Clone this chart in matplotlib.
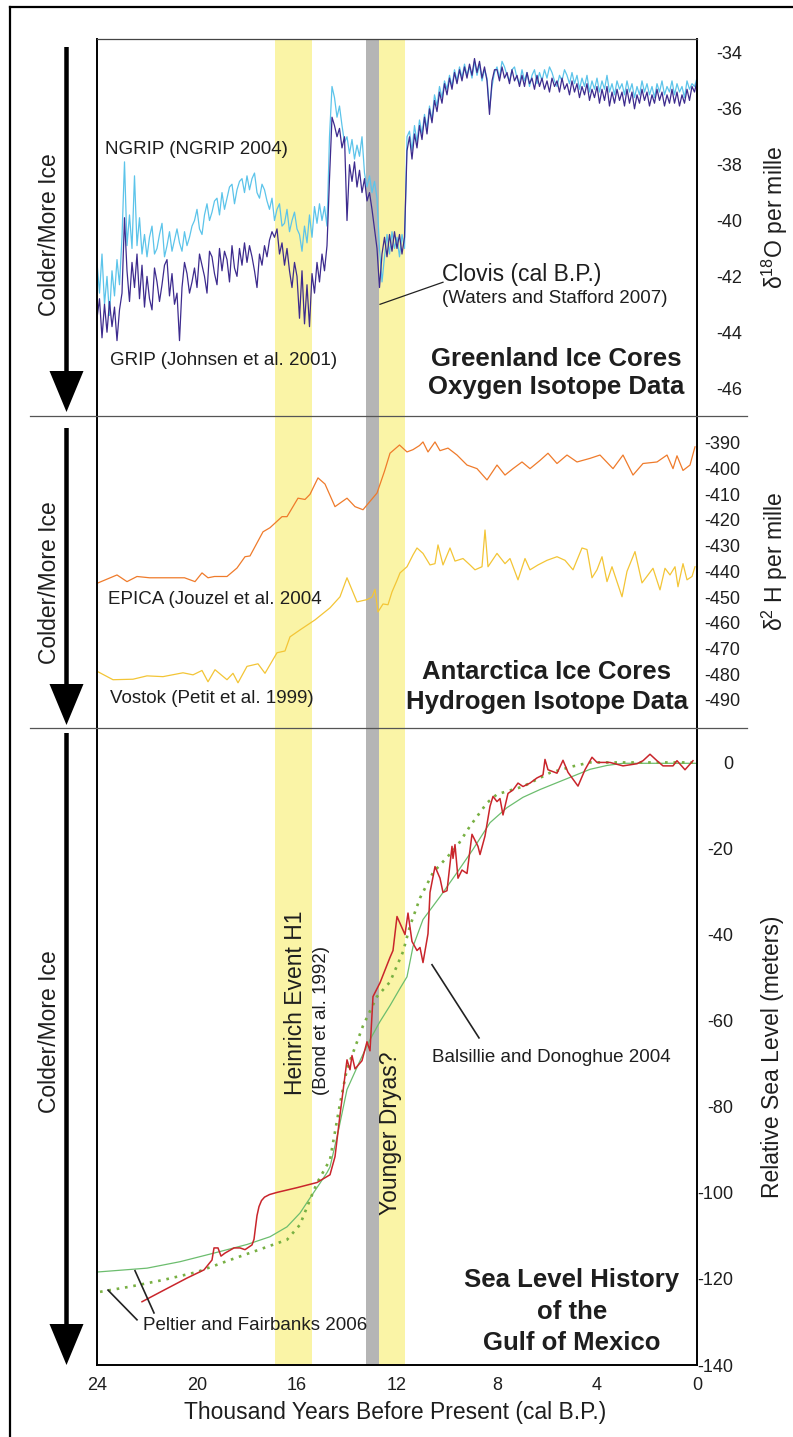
import numpy as np
import matplotlib
matplotlib.use("Agg")
import matplotlib.pyplot as plt
from matplotlib.lines import Line2D
from matplotlib.patches import FancyArrow

plt.rcParams.update({
    "font.family": ["Liberation Sans", "DejaVu Sans"],
    "mathtext.fontset": "custom",
    "mathtext.rm": "Liberation Sans",
    "mathtext.it": "Liberation Sans:italic",
    "mathtext.bf": "Liberation Sans:bold",
    "axes.unicode_minus": False,
})

# ---------------------------------------------------------------------------
# data; ages in thousand years BP
# ---------------------------------------------------------------------------
# Greenland d18O, one value per 0.1 kyr from 24.0 down to 0.0
ngrip = [
    -41.5, -42.6, -41.2, -43.0, -42.0, -43.4, -41.8, -42.7, -41.4, -42.3,
    -40.6, -37.9, -40.9, -39.8, -41.0, -38.4, -40.9, -39.9, -41.2, -40.5,
    -41.3, -40.6, -40.2, -41.2, -41.0, -40.5, -40.1, -41.3, -40.9, -40.4,
    -41.1, -40.7, -40.3, -40.8, -41.1, -40.4, -40.9, -40.6, -40.2, -40.0,
    -39.6, -40.3, -40.5, -39.8, -39.4, -40.0, -39.7, -39.3, -39.2, -39.8,
    -39.0, -39.6, -39.2, -38.8, -38.7, -39.4, -38.9, -38.6, -38.5, -39.0,
    -38.4, -38.9, -38.5, -38.3, -39.0, -39.2, -38.7, -38.9, -39.3, -39.6,
    -39.2, -40.0, -39.6, -39.4, -40.2, -40.1, -39.6, -40.4, -40.0, -39.7,
    -40.3, -40.5, -41.1, -40.2, -40.8, -39.8, -40.6, -39.5, -40.1, -39.4,
    -40.0, -39.5, -40.2, -37.0, -35.2, -35.6, -36.3, -35.9, -36.6, -37.2,
    -37.0, -37.6, -37.1, -37.8, -37.3, -37.7, -37.0, -38.3, -38.8, -38.4,
    -39.0, -38.6, -39.2, -41.0, -42.2, -41.3, -40.5, -41.2, -40.4, -41.0,
    -40.6, -41.3, -40.5, -41.0, -37.0, -36.8, -37.5, -36.6, -37.2, -36.4,
    -36.9, -36.2, -36.7, -35.9, -36.4, -35.5, -35.9, -35.2, -35.6, -35.0,
    -35.3, -34.8, -35.2, -34.6, -35.0, -34.5, -34.9, -34.4, -34.8, -34.5,
    -34.9, -34.3, -34.8, -34.4, -35.0, -34.6, -34.9, -36.0, -35.2, -34.7,
    -34.5, -34.9, -34.3, -34.5, -34.8, -35.0, -34.6, -34.5, -34.9, -35.1,
    -34.6, -35.0, -34.7, -35.2, -34.8, -34.6, -35.1, -34.7, -35.0, -34.6,
    -34.9, -34.5, -34.7, -35.0, -35.2, -34.8, -35.0, -34.6, -34.8, -35.1,
    -34.7, -35.1, -34.8, -35.3, -34.9, -35.2, -34.8, -35.4, -35.0, -35.3,
    -34.9, -35.4, -35.0, -35.3, -34.8, -35.4, -35.1, -35.5, -35.0, -35.3,
    -35.1, -35.5, -35.0, -35.4, -35.1, -35.6, -35.2, -35.5, -35.0, -35.4,
    -35.1, -35.5, -35.2, -35.6, -35.1, -35.4, -35.0, -35.5, -35.2, -35.4,
    -35.0, -35.5, -35.1, -35.4, -35.2, -35.6, -35.0, -35.3, -35.1, -35.2, -34.9,
]
grip = [
    -43.5, -42.8, -44.2, -43.0, -44.0, -42.9, -43.8, -43.1, -44.3, -43.2,
    -42.6, -39.9, -41.8, -42.9, -41.5, -42.4, -41.2, -42.8, -41.6, -43.1,
    -42.0, -42.8, -43.2, -41.7, -42.2, -42.9, -42.3, -41.6, -41.4, -42.7,
    -41.9, -43.0, -42.6, -44.3, -42.4, -41.5, -41.9, -42.6, -42.2, -41.7,
    -42.4, -41.2, -41.6, -42.0, -42.6, -41.1, -41.3, -41.9, -42.3, -41.0,
    -41.8, -41.1, -41.4, -42.2, -40.9, -41.7, -42.0, -41.0, -41.6, -40.8,
    -41.5, -40.9, -41.3, -41.8, -42.4, -41.2, -41.6, -40.9, -41.3, -40.7,
    -40.4, -40.6, -40.3, -41.2, -40.8, -41.6, -41.0, -41.8, -42.4, -41.5,
    -42.0, -43.5, -41.8, -43.7, -42.3, -43.8, -41.9, -42.6, -41.5, -42.2,
    -41.2, -41.8, -40.9, -38.5, -36.3, -36.6, -37.0, -36.7, -37.4, -37.0,
    -40.0, -38.0, -38.6, -37.9, -38.8, -38.2, -39.0, -38.5, -39.3, -39.0,
    -39.6, -40.3, -41.0, -42.4, -41.2, -40.6, -41.3, -40.5, -41.1, -40.4,
    -41.0, -40.5, -41.2, -40.6, -37.5, -37.0, -37.8, -36.9, -37.4, -36.6,
    -37.1, -36.3, -36.9, -36.0, -36.5, -35.7, -36.1, -35.4, -35.8, -35.1,
    -35.5, -34.9, -35.3, -34.7, -35.1, -34.6, -35.0, -34.5, -34.9, -34.4,
    -34.8, -34.2, -34.7, -34.3, -34.9, -34.5, -35.0, -36.2, -35.0, -34.6,
    -34.6, -35.0, -34.5, -34.9, -34.7, -35.1, -34.6, -35.0, -34.8, -35.2,
    -34.8, -35.2, -34.7, -35.1, -34.9, -35.3, -34.8, -35.2, -34.9, -35.3,
    -35.0, -35.4, -34.9, -35.2, -35.0, -35.4, -34.9, -35.3, -35.1, -35.5,
    -35.0, -35.4, -35.1, -35.6, -35.2, -35.5, -35.1, -35.7, -35.3, -35.6,
    -35.2, -35.8, -35.3, -35.7, -35.2, -35.9, -35.4, -35.8, -35.3, -35.7,
    -35.4, -35.9, -35.3, -35.8, -35.4, -36.0, -35.5, -35.8, -35.3, -35.7,
    -35.4, -35.9, -35.5, -35.8, -35.3, -35.7, -35.4, -35.9, -35.5, -35.8,
    -35.3, -35.8, -35.4, -35.9, -35.5, -35.8, -35.3, -35.7, -35.2, -35.4, -35.0,
]
ngrip_age = np.linspace(24, 0, len(ngrip))
grip_age = np.linspace(24, 0, len(grip))

# Antarctic dD
epica_age = [23.96, 23.2, 22.8, 22.4, 21.9, 21.0, 20.5, 20.08, 19.8, 19.56, 19.3,
             18.8, 18.4, 18.08, 17.88, 17.36, 17.08, 16.6, 16.4, 15.96, 15.68, 15.48,
             15.16, 14.88, 14.48, 14.0, 13.68, 13.36, 12.8, 12.5, 12.28, 11.9, 11.6,
             11.36, 11.1, 10.96, 10.76, 10.48, 10.28, 9.96, 9.6, 9.2, 8.8, 8.4, 8.0,
             7.68, 7.36, 7.0, 6.68, 6.28, 5.96, 5.6, 5.2, 4.8, 4.28, 3.88, 3.36, 2.96,
             2.56, 2.16, 1.6, 1.2, 0.96, 0.8, 0.56, 0.28, 0.08]
epica_dd = [-444.5, -441.4, -444.0, -442.0, -442.5, -442.5, -442.5, -444.0, -440.6,
            -442.5, -442.0, -442.0, -438.7, -434.3, -434.0, -424.6, -423.0, -418.7,
            -418.7, -411.5, -412.0, -410.0, -403.6, -406.0, -414.8, -411.5, -414.8,
            -416.0, -409.5, -401.0, -394.0, -390.8, -393.5, -392.6, -391.0, -389.6,
            -393.5, -389.6, -393.0, -392.0, -394.7, -398.6, -400.0, -404.4, -398.6,
            -402.5, -400.0, -397.4, -400.0, -396.8, -394.0, -398.0, -394.7, -397.4,
            -396.0, -394.7, -400.0, -394.7, -402.5, -398.0, -397.4, -394.7, -400.0,
            -395.0, -400.7, -398.6, -391.5]
vostok_age = [23.96, 23.36, 22.56, 22.0, 21.36, 20.56, 20.16, 19.8, 19.56, 19.28, 18.8,
              18.56, 18.36, 18.0, 17.56, 17.28, 16.8, 16.48, 16.28, 15.88, 15.28, 14.68,
              14.28, 14.0, 13.6, 13.2, 13.0, 12.88, 12.76, 12.56, 12.36, 12.2, 12.0,
              11.88, 11.6, 11.36, 11.2, 10.96, 10.68, 10.48, 10.36, 10.16, 9.88, 9.68,
              9.36, 9.08, 8.88, 8.6, 8.48, 8.36, 8.0, 7.68, 7.48, 7.16, 6.88, 6.68, 6.36,
              6.0, 5.6, 5.28, 4.96, 4.6, 4.4, 4.2, 4.0, 3.8, 3.6, 3.4, 3.0, 2.8, 2.48,
              2.2, 1.96, 1.76, 1.48, 1.28, 1.08, 0.88, 0.76, 0.56, 0.4, 0.2, 0.08]
vostok_dd = [-479.1, -482.2, -482.0, -480.7, -481.0, -479.5, -480.3, -478.6, -483.0,
             -478.3, -482.2, -479.7, -483.4, -477.0, -476.0, -479.7, -471.7, -471.0,
             -465.5, -462.8, -458.9, -454.2, -449.9, -442.5, -451.9, -451.0, -450.0,
             -447.0, -455.8, -452.7, -453.0, -448.0, -443.5, -440.6, -438.2, -433.6,
             -430.9, -433.0, -437.5, -437.0, -429.7, -437.5, -430.9, -436.0, -435.0,
             -437.5, -439.4, -438.2, -423.9, -438.2, -433.0, -437.0, -435.0, -443.3,
             -435.0, -439.4, -437.5, -435.7, -434.3, -435.7, -439.4, -430.9, -431.5,
             -442.5, -439.4, -434.3, -444.0, -438.2, -449.9, -440.0, -432.3, -444.5,
             -441.4, -438.8, -447.2, -438.8, -441.4, -438.2, -446.0, -437.0, -443.3,
             -442.0, -438.2]

# Gulf of Mexico relative sea level (m)
bd_age = [22.2, 21.32, 20.4, 19.72, 19.4, 19.32, 19.16, 19.04, 18.88, 18.52, 18.28,
          18.08, 17.8, 17.72, 17.66, 17.6, 17.52, 17.42, 17.3, 17.1, 16.8, 16.0, 15.2,
          14.68, 14.48, 14.28, 14.0, 13.88, 13.8, 13.68, 13.4, 13.2, 13.08, 12.96,
          12.68, 12.28, 12.16, 12.0, 11.68, 11.56, 11.4, 11.2, 11.08, 10.96, 10.76,
          10.68, 10.48, 10.28, 10.16, 10.0, 9.8, 9.76, 9.68, 9.56, 9.4, 9.2, 9.0, 8.76,
          8.68, 8.48, 8.28, 8.16, 8.0, 7.88, 7.76, 7.56, 7.36, 7.16, 6.96, 6.68, 6.4,
          6.16, 6.08, 5.96, 5.6, 5.36, 5.16, 4.76, 4.48, 4.2, 4.0, 3.48, 2.96, 2.4,
          2.16, 1.88, 1.6, 1.36, 0.96, 0.8, 0.48, 0.16]
bd_rsl = [-125.3, -122.6, -119.8, -117.9, -115.6, -112.8, -112.8, -114.7, -114.0,
          -112.8, -112.8, -113.2, -112.1, -110.8, -108.0, -105.3, -103.2, -101.8,
          -101.0, -100.4, -99.9, -98.8, -97.6, -95.8, -91.6, -81.9, -69.1, -71.4, -68.1,
          -71.2, -69.3, -64.9, -67.0, -54.4, -51.2, -45.3, -43.7, -35.8, -40.0, -35.0,
          -41.6, -43.7, -43.0, -46.5, -39.8, -30.2, -24.2, -26.9, -30.2, -29.8, -19.5,
          -22.3, -19.1, -26.9, -25.0, -25.8, -16.7, -19.5, -21.4, -17.1, -10.2, -7.9,
          -9.1, -8.4, -12.2, -7.2, -6.4, -4.8, -5.6, -4.8, -3.6, -2.9, 0.7, -1.7, -2.5,
          0.5, -2.3, -5.5, -1.7, 1.2, 0.0, 0.0, -0.8, -0.3, 0.4, 1.9, 0.4, -0.8, -0.8,
          0.4, -1.7, 0.4]
pf_age = [24.0, 22.0, 20.68, 19.32, 18.0, 17.08, 16.4, 15.88, 15.48, 15.12, 14.8,
          14.68, 14.36, 14.0, 13.48, 13.08, 12.68, 12.28, 11.88, 11.6, 11.36, 10.96,
          10.28, 9.6, 8.96, 8.28, 7.6, 6.96, 6.28, 5.6, 4.96, 4.28, 3.6, 2.96, 1.6, 0.0]
pf_rsl = [-118.4, -117.5, -116.0, -114.0, -112.0, -110.2, -107.9, -104.7, -101.2,
          -98.1, -95.3, -94.0, -86.0, -76.0, -69.3, -64.4, -60.2, -56.5, -52.5, -49.8,
          -42.8, -36.5, -31.2, -25.6, -20.2, -14.0, -10.5, -8.1, -6.3, -4.7, -3.2,
          -1.6, -0.7, -0.2, -0.2, -0.2]
pf2_age = [23.88, 22.68, 21.32, 20.0, 18.68, 17.32, 16.4, 15.88, 15.48, 15.2, 14.68,
           14.28, 14.0, 13.36, 12.8, 12.28, 11.76, 11.48, 11.08, 10.56, 9.6, 9.08, 8.4,
           8.0, 6.96, 5.88, 4.96, 4.28, 0.0]
pf2_rsl = [-123.0, -121.8, -120.2, -118.4, -115.6, -112.8, -110.9, -107.4, -101.6,
           -97.7, -92.3, -79.3, -71.2, -61.2, -54.4, -51.0, -44.0, -38.0, -31.5, -25.6,
           -19.5, -14.8, -9.4, -7.4, -5.6, -2.4, -0.9, 0.0, 0.0]

# shaded intervals (kyr BP)
heinrich = (16.88, 15.4)
clovis = (13.24, 12.72)
younger_dryas = (12.72, 11.68)

# ---------------------------------------------------------------------------
W, H = 793, 1437
fig = plt.figure(figsize=(W / 100, H / 100), dpi=100)
fx = lambda px: px / W
fy = lambda py: 1 - py / H
TXT = "#1e1e1e"
YEL, GRY = "#faf4a6", "#b5b5b5"


def panel(top, bottom):
    ax = fig.add_axes([fx(97), fy(bottom), fx(697) - fx(97), fy(top) - fy(bottom)])
    ax.set_xlim(24, 0)
    for s in ax.spines.values():
        s.set_visible(False)
    for side in ("left", "right"):
        ax.spines[side].set_visible(True)
        ax.spines[side].set_linewidth(1.4)
    ax.axvspan(*heinrich, color=YEL, lw=0, zorder=0)
    ax.axvspan(*younger_dryas, color=YEL, lw=0, zorder=0)
    ax.axvspan(*clovis, color=GRY, lw=0, zorder=0)
    ax.yaxis.tick_right()
    ax.tick_params(axis="y", length=0, labelsize=13, labelcolor=TXT)
    ax.tick_params(axis="x", length=0, labelbottom=False)
    return ax


# --- Greenland --------------------------------------------------------------
ax1 = panel(39, 416)
ax1.spines["top"].set_visible(True)
ax1.spines["top"].set_color("#444")
ax1.spines["top"].set_linewidth(0.9)
ax1.plot(ngrip_age, ngrip, color="#5cc4ea", lw=0.9)
ax1.plot(grip_age, grip, color="#3d2b8e", lw=0.9)
ax1.set_ylim(-47, -33.5)
ax1.set_yticks(np.arange(-34, -47, -2))
ax1.tick_params(axis="y", pad=14)
ax1.text(23.68, -37.46, "NGRIP (NGRIP 2004)", fontsize=13.5, color=TXT, va="center")
ax1.text(23.48, -45.0, "GRIP (Johnsen et al. 2001)", fontsize=13.5, color=TXT, va="center")
ax1.plot([12.68, 10.16], [-43.0, -42.21], color="#222", lw=0.9)
ax1.text(10.2, -41.93, "Clovis (cal B.P.)", fontsize=16.5, color=TXT, va="center")
ax1.text(10.2, -42.79, "(Waters and Stafford 2007)", fontsize=13.5, color=TXT, va="center")
ax1.text(5.64, -44.96, "Greenland Ice Cores", fontsize=18.5, weight="bold",
         color=TXT, ha="center", va="center")
ax1.text(5.64, -45.96, "Oxygen Isotope Data", fontsize=18.5, weight="bold",
         color=TXT, ha="center", va="center")

# --- Antarctica -------------------------------------------------------------
ax2 = panel(416, 728)
ax2.plot(epica_age, epica_dd, color="#ef7b2b", lw=0.9)
ax2.plot(vostok_age, vostok_dd, color="#f3c536", lw=0.9)
ax2.set_ylim(-501, -379.5)
ax2.set_yticks(np.arange(-390, -491, -10))
ax2.tick_params(axis="y", pad=5)
ax2.text(23.56, -451.1, "EPICA (Jouzel et al. 2004", fontsize=13.5, color=TXT, va="center")
ax2.text(23.48, -489.6, "Vostok (Petit et al. 1999)", fontsize=13.5, color=TXT, va="center")
ax2.text(6.0, -479.1, "Antarctica Ice Cores", fontsize=18.5, weight="bold",
         color=TXT, ha="center", va="center")
ax2.text(6.0, -490.8, "Hydrogen Isotope Data", fontsize=18.5, weight="bold",
         color=TXT, ha="center", va="center")

# --- Gulf of Mexico sea level -----------------------------------------------
ax3 = panel(728, 1365)
ax3.spines["bottom"].set_visible(True)
ax3.spines["bottom"].set_linewidth(1.4)
ax3.plot(pf_age, pf_rsl, color="#6cbd6e", lw=0.9)
ax3.plot(pf2_age, pf2_rsl, color="#78b043", lw=1.9, linestyle=(0, (1, 2.2)))
ax3.plot(bd_age, bd_rsl, color="#c9252b", lw=1.1)
ax3.set_ylim(-140, 8)
ax3.set_yticks(np.arange(0, -141, -20))
ax3.tick_params(axis="y", pad=26)
for lab in ax3.get_yticklabels():
    lab.set_horizontalalignment("right")
ax3.set_xticks([24, 20, 16, 12, 8, 4, 0])
ax3.tick_params(axis="x", labelbottom=True, labelsize=13, labelcolor=TXT, pad=9)

ax3.text(16.04, -77.2, "Heinrich Event H1", fontsize=16.5, color=TXT, rotation=90,
         rotation_mode="anchor", ha="left", va="center")
ax3.text(15.04, -77.2, "(Bond et al. 1992)", fontsize=13.5, color=TXT, rotation=90,
         rotation_mode="anchor", ha="left", va="center")
ax3.text(12.24, -105.1, "Younger Dryas?", fontsize=16.5, color=TXT, rotation=90,
         rotation_mode="anchor", ha="left", va="center")
ax3.plot([10.6, 8.72], [-47.0, -64.0], color="#222", lw=1.2)
ax3.text(10.6, -68.6, "Balsillie and Donoghue 2004", fontsize=13.5, color=TXT, va="center")
ax3.plot([23.56, 22.4], [-122.6, -129.5], color="#222", lw=1.2)
ax3.plot([22.48, 21.72], [-118.1, -127.9], color="#222", lw=1.2)
ax3.text(22.16, -130.9, "Peltier and Fairbanks 2006", fontsize=13.5, color=TXT, va="center")
for txt, yv in zip(["Sea Level History", "of the", "Gulf of Mexico"], [-120.2, -127.7, -134.9]):
    ax3.text(5.0, yv, txt, fontsize=18.5, weight="bold", color=TXT, ha="center", va="center")

# --- figure-level furniture --------------------------------------------------
for py in (416, 728):
    fig.add_artist(Line2D([fx(30), fx(747)], [fy(py), fy(py)], transform=fig.transFigure,
                          color="#555", lw=0.9))
fig.add_artist(Line2D([fx(10), fx(10)], [fy(7), 0], transform=fig.transFigure, color="k", lw=1.6))
fig.add_artist(Line2D([fx(10), 1], [fy(7), fy(7)], transform=fig.transFigure, color="k", lw=1.6))

for y0, y1, yc in [(47, 412, 235), (428, 725, 583), (733, 1365, 1032)]:
    fig.add_artist(FancyArrow(0.665, (H - y0) / 100, 0, -(y1 - y0) / 100, width=0.045,
                              head_width=0.34, head_length=0.41, length_includes_head=True,
                              transform=fig.dpi_scale_trans, color="black", lw=0))
    fig.text(fx(50), fy(yc), "Colder/More Ice", rotation=90, ha="center", va="center",
             fontsize=16.5, color=TXT)

fig.text(fx(775), fy(217), r"δ$^{18}$O per mille", rotation=90, ha="center", va="center",
         fontsize=16.5, color=TXT)
fig.text(fx(775), fy(561), r"δ$^{2}$ H per mille", rotation=90, ha="center", va="center",
         fontsize=16.5, color=TXT)
fig.text(fx(772), fy(1057), "Relative Sea Level (meters)", rotation=90, ha="center",
         va="center", fontsize=16.5, color=TXT)
fig.text(fx(395), fy(1413), "Thousand Years Before Present (cal B.P.)", ha="center",
         va="center", fontsize=16.5, color=TXT)

fig.savefig("out.png", dpi=100)
